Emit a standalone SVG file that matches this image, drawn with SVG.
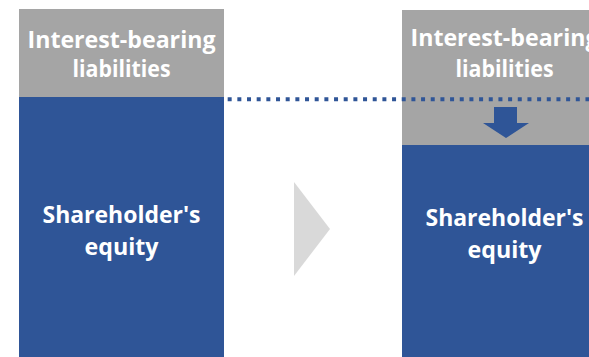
<svg xmlns="http://www.w3.org/2000/svg" width="589" height="357" viewBox="0 0 589 357">
<style>
.gray{fill:#A5A5A5}
.blue{fill:#2F5597}
.t{font-family:"Open Sans","Noto Sans","Liberation Sans",sans-serif;font-weight:bold;fill:#FFFFFF;text-anchor:middle;font-size:24px}
.dots{stroke:#2F5597;stroke-width:4;stroke-dasharray:4 5.67;fill:none}
</style>
<rect width="589" height="357" fill="#FFFFFF"/>
<g id="before">
  <rect class="gray" x="19" y="9" width="205" height="89"/>
  <rect class="blue" x="19" y="97" width="205" height="260"/>
  <text class="t" x="121.5" y="48" textLength="188" lengthAdjust="spacingAndGlyphs">Interest-bearing</text>
  <text class="t" x="121.5" y="77" textLength="98" lengthAdjust="spacingAndGlyphs">liabilities</text>
  <text class="t" x="121.5" y="223" textLength="158" lengthAdjust="spacingAndGlyphs">Shareholder's</text>
  <text class="t" x="121.5" y="255" textLength="74" lengthAdjust="spacingAndGlyphs">equity</text>
</g>
<g id="after">
  <rect class="gray" x="402" y="10" width="205" height="136"/>
  <rect class="blue" x="402" y="145" width="205" height="212"/>
  <text class="t" x="504.5" y="46" textLength="188" lengthAdjust="spacingAndGlyphs">Interest-bearing</text>
  <text class="t" x="504.5" y="77" textLength="98" lengthAdjust="spacingAndGlyphs">liabilities</text>
  <text class="t" x="504.5" y="226" textLength="158" lengthAdjust="spacingAndGlyphs">Shareholder's</text>
  <text class="t" x="504.5" y="258" textLength="74" lengthAdjust="spacingAndGlyphs">equity</text>
  <polygon class="blue" points="494,107 517,107 517,123 529,123 506,138 483,123 494,123"/>
</g>
<g id="connectors">
  <line class="dots" x1="218" y1="99.3" x2="589" y2="99.3"/>
  <polygon id="chevron" points="294,182 330,229 294,276" fill="#D9D9D9"/>
</g>
</svg>
